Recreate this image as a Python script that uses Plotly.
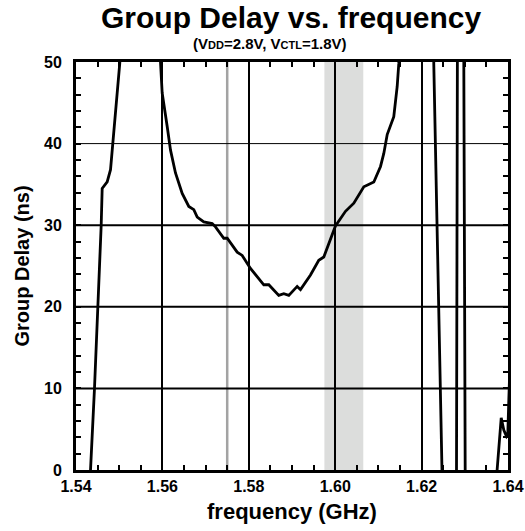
import plotly.graph_objects as go

# Group delay curve (GHz, ns)
freq = [1.54324, 1.54336, 1.54428, 1.54514, 1.54583, 1.54606, 1.54722, 1.54799, 1.54838,
        1.54914, 1.55014, 1.5505,
        1.5593, 1.55956, 1.55995, 1.56111, 1.56188, 1.56303, 1.56458, 1.56611, 1.56727,
        1.56806, 1.56958, 1.57153, 1.57229, 1.57421, 1.57500, 1.57731, 1.57847, 1.58039,
        1.58194, 1.58347, 1.58463, 1.58579, 1.58694, 1.58810, 1.58926, 1.59120, 1.59197,
        1.59428, 1.59620, 1.59736, 1.59891, 1.60006, 1.60238, 1.60431, 1.60662, 1.60817,
        1.60894, 1.61049, 1.61125, 1.61204, 1.61356, 1.61435, 1.61472, 1.6149,
        1.6228, 1.62282, 1.62460, 1.62472, 1.6248,
        1.6280, 1.62808, 1.62824, 1.6283,
        1.6297, 1.62977, 1.63009, 1.6302,
        1.6374, 1.63748, 1.63843, 1.63903, 1.63966, 1.63995, 1.64019, 1.6404]
delay = [-5, 0, 10, 20, 30, 34.5, 35.3, 36.8, 39.2,
         43.3, 49.9, 55,
         55, 50, 46.2, 42.1, 39.2, 36.4, 33.9, 32.3, 31.9,
         31.0, 30.4, 30.2, 29.8, 28.4, 28.4, 26.7, 26.3, 24.7,
         23.7, 22.7, 22.7, 22.1, 21.4, 21.6, 21.4, 22.5, 22.1,
         23.9, 25.7, 26.1, 28.2, 29.9, 31.7, 32.7, 34.7, 35.1,
         35.3, 37.2, 38.8, 41.1, 43.3, 47.0, 49.8, 55,
         55, 49.8, 7.0, 0, -5,
         -5, 0, 50, 55,
         55, 50, 0, -5,
         -5, 0, 6.4, 4.9, 4.1, 4.3, 8.6, 12]

x_ticks = [1.54, 1.56, 1.58, 1.60, 1.62, 1.64]
x_tick_labels = ["1.54", "1.56", "1.58", "1.60", "1.62", "1.64"]
y_ticks = [0, 10, 20, 30, 40, 50]
y_grid_thick = [10, 20, 30]
y_grid_thin = [40]
marker_freq = 1.575
band_lo, band_hi = 1.5975, 1.6065

FONT = "Liberation Sans, Arial, sans-serif"

fig = go.Figure()
fig.add_trace(go.Scatter(x=freq, y=delay, mode="lines",
                         line=dict(color="black", width=2.8), showlegend=False,
                         hoverinfo="skip"))

shapes = []
shapes.append(dict(type="rect", xref="x", yref="paper", x0=band_lo, x1=band_hi, y0=0, y1=1,
                   fillcolor="#dcdddc", line=dict(width=0), layer="below"))
shapes.append(dict(type="line", xref="x", yref="paper", x0=marker_freq, x1=marker_freq, y0=0, y1=1,
                   line=dict(color="#a3a3a3", width=2.5), layer="below"))
for v in y_grid_thick:
    shapes.append(dict(type="line", xref="paper", yref="y", x0=0, x1=1, y0=v, y1=v,
                       line=dict(color="black", width=2), layer="below"))
for v in y_grid_thin:
    shapes.append(dict(type="line", xref="paper", yref="y", x0=0, x1=1, y0=v, y1=v,
                       line=dict(color="black", width=1), layer="below"))

fig.update_layout(
    width=525, height=531,
    margin=dict(l=76, r=17, t=62, b=61),
    paper_bgcolor="white", plot_bgcolor="white",
    font=dict(family=FONT, color="black"),
    shapes=shapes,
    annotations=[
        dict(text="<b>Group Delay vs. frequency</b>", xref="paper", yref="paper",
             x=0.497, y=1.108, showarrow=False, font=dict(size=30, family=FONT),
             xanchor="center", yanchor="middle"),
        dict(text="<b>(V<span style='font-size:11px'>DD</span>=2.8V, V<span style='font-size:11px'>CTL</span>=1.8V)</b>",
             xref="paper", yref="paper", x=0.45, y=1.046, showarrow=False,
             font=dict(size=15, family=FONT), xanchor="center", yanchor="middle"),
    ],
)

fig.update_xaxes(
    range=[1.54, 1.64], tickvals=x_ticks, ticktext=x_tick_labels, automargin=False,
    tickfont=dict(size=16, family=FONT, weight="bold"), ticklabeloverflow="allow",
    showgrid=True, gridcolor="black", gridwidth=2,
    showline=True, linecolor="black", linewidth=3, mirror="allticks",
    ticks="inside", ticklen=5, tickwidth=2, tickcolor="black",
    minor=dict(dtick=0.005, tick0=1.54, ticks="inside", ticklen=5, tickwidth=2, tickcolor="black",
               showgrid=False),
    zeroline=False,
    title=dict(text="<b>frequency (GHz)</b>", font=dict(size=22, family=FONT), standoff=10),
)
fig.update_yaxes(
    range=[0, 50], tickvals=y_ticks, automargin=False,
    tickfont=dict(size=16, family=FONT, weight="bold"),
    showgrid=False,
    showline=True, linecolor="black", linewidth=3, mirror="allticks",
    ticks="inside", ticklen=5, tickwidth=2, tickcolor="black",
    minor=dict(dtick=2, tick0=0, ticks="inside", ticklen=5, tickwidth=2, tickcolor="black",
               showgrid=False),
    zeroline=False, ticklabelstandoff=8,
    title=dict(text="<b>Group Delay (ns)</b>", font=dict(size=20, family=FONT), standoff=10),
)

# remove the default 8px page margin so the figure fills the window exactly
fig.write_html("out.html", config={"displayModeBar": False},
               post_script="document.body.style.margin='0px';")
